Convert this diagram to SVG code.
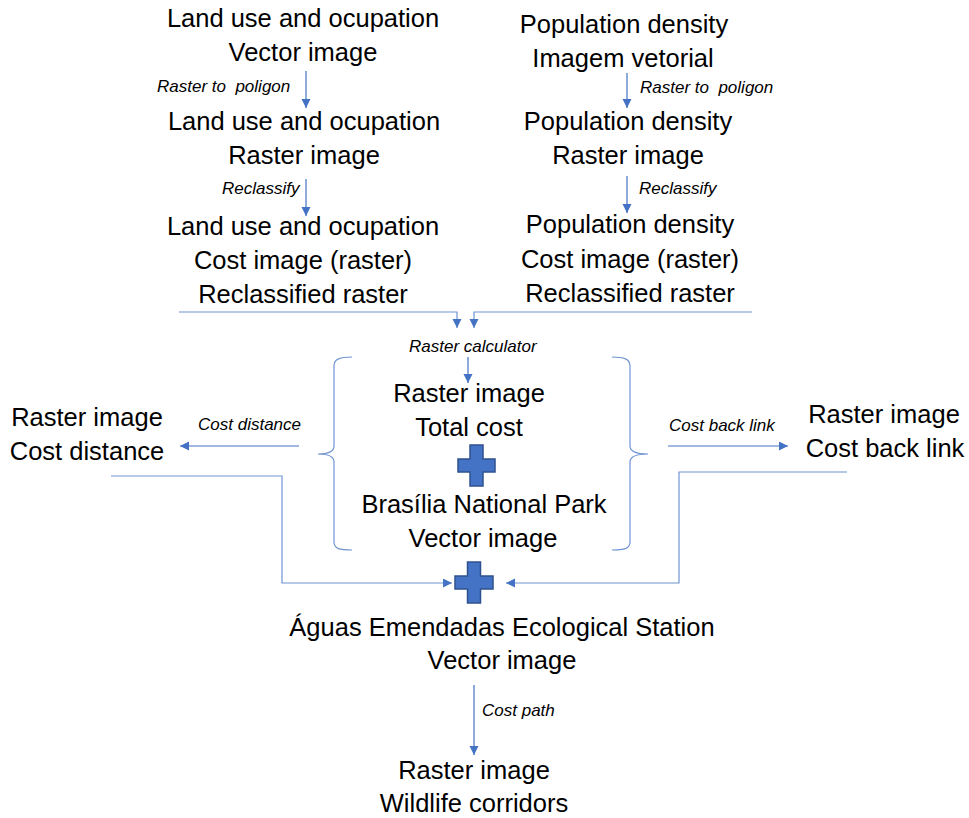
<svg xmlns="http://www.w3.org/2000/svg" width="969" height="818" viewBox="0 0 969 818">
<defs>
<style>
.t{font-family:"Liberation Sans",Arial,sans-serif;font-size:25.5px;fill:#000;text-anchor:middle}
.l{font-family:"Liberation Sans",Arial,sans-serif;font-size:17px;font-style:italic;fill:#000;white-space:pre}
.c{fill:none;stroke:#4472C4;stroke-width:1.2}
.lc{fill:none;stroke:#6f93d3;stroke-width:1.2}
.plus{fill:#4472C4;stroke:#2F528F;stroke-width:1.5}
.br{fill:none;stroke:#6f93d3;stroke-width:1.2}
</style>
<marker id="ah" markerUnits="userSpaceOnUse" markerWidth="10" markerHeight="10" refX="9" refY="4.5" orient="auto">
<path d="M0,0 L9,4.5 L0,9 z" fill="#4472C4"/>
</marker>
</defs>
<rect width="969" height="818" fill="#fff"/>

<g id="connectors">
<line class="c" x1="306" y1="71" x2="306" y2="108" marker-end="url(#ah)"/>
<line class="c" x1="306" y1="179" x2="306" y2="216" marker-end="url(#ah)"/>
<line class="c" x1="627" y1="73" x2="627" y2="108" marker-end="url(#ah)"/>
<line class="c" x1="627" y1="176" x2="627" y2="213" marker-end="url(#ah)"/>
<polyline class="lc" points="179,312 457,312 457,328" marker-end="url(#ah)"/>
<polyline class="lc" points="752,312 474,312 474,328" marker-end="url(#ah)"/>
<line class="c" x1="468" y1="357" x2="468" y2="383" marker-end="url(#ah)"/>
<line class="c" x1="299" y1="446" x2="180" y2="446" marker-end="url(#ah)"/>
<line class="c" x1="668" y1="446" x2="788" y2="446" marker-end="url(#ah)"/>
<polyline class="lc" points="111,476 282,476 282,583 452,583" marker-end="url(#ah)"/>
<polyline class="lc" points="847,472 679,472 679,583 506,583" marker-end="url(#ah)"/>
<line class="c" x1="474" y1="685" x2="474" y2="755" marker-end="url(#ah)"/>
<text class="l" x="157" y="92">Raster to  poligon</text>
<text class="l" x="222" y="194">Reclassify</text>
<text class="l" x="640" y="93">Raster to  poligon</text>
<text class="l" x="639" y="194">Reclassify</text>
<text class="l" x="409" y="352">Raster calculator</text>
<text class="l" x="198" y="430">Cost distance</text>
<text class="l" x="669" y="431">Cost back link</text>
<text class="l" x="482" y="716">Cost path</text>
</g>

<g id="land-vector"><text class="t" x="303" y="27">Land use and ocupation</text><text class="t" x="303" y="61">Vector image</text></g>
<g id="land-raster"><text class="t" x="304" y="130">Land use and ocupation</text><text class="t" x="304" y="164">Raster image</text></g>
<g id="land-cost"><text class="t" x="303" y="235">Land use and ocupation</text><text class="t" x="303" y="269">Cost image (raster)</text><text class="t" x="303" y="303">Reclassified raster</text></g>

<g id="pop-vector"><text class="t" x="624" y="33">Population density</text><text class="t" x="623" y="67">Imagem vetorial</text></g>
<g id="pop-raster"><text class="t" x="628" y="130">Population density</text><text class="t" x="628" y="164">Raster image</text></g>
<g id="pop-cost"><text class="t" x="630" y="233">Population density</text><text class="t" x="630" y="268">Cost image (raster)</text><text class="t" x="630" y="302">Reclassified raster</text></g>

<g id="total-group">
<path class="br" d="M352,357 C340,357 334,359 334,366 L334,446 C334,452 328,454 318,454 C328,454 334,456 334,462 L334,542 C334,549 340,550 352,550"/>
<path class="br" d="M612,357 C624,357 630,359 630,366 L630,446 C630,452 636,454 648,454 C636,454 630,456 630,462 L630,542 C630,549 624,550 612,550"/>
<text class="t" x="469" y="402">Raster image</text>
<text class="t" x="469" y="436">Total cost</text>
<path class="plus" d="M470,445 h13 v14 h12 v13 h-12 v14 h-13 v-14 h-12 v-13 h12 z"/>
<text class="t" x="484" y="513">Brasília National Park</text>
<text class="t" x="483" y="547">Vector image</text>
</g>

<g id="cost-distance"><text class="t" x="87" y="426">Raster image</text><text class="t" x="87" y="460">Cost distance</text></g>
<g id="cost-backlink"><text class="t" x="884" y="423">Raster image</text><text class="t" x="885" y="457">Cost back link</text></g>

<g id="plus2"><path class="plus" d="M467.5,562 h13 v14 h12.5 v13 h-12.5 v14 h-13 v-14 h-12.5 v-13 h12.5 z"/></g>

<g id="aguas"><text class="t" x="502" y="636">Águas Emendadas Ecological Station</text><text class="t" x="502" y="669">Vector image</text></g>
<g id="corridors"><text class="t" x="474" y="779">Raster image</text><text class="t" x="474" y="812">Wildlife corridors</text></g>
</svg>
